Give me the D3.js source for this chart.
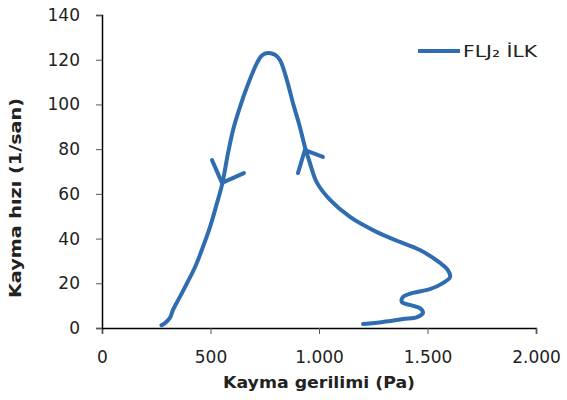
<!DOCTYPE html>
<html>
<head>
<meta charset="utf-8">
<script src="https://cdn.jsdelivr.net/npm/d3@7"></script>
<style>
body { margin: 0; background: #fff; }
.tick text { font-family: "DejaVu Sans", sans-serif; font-size: 17px; fill: #222; }
</style>
</head>
<body>
<div id="chart"></div>
<script>

// shear stress (Pa) and shear rate (1/san), in drawing order (up branch, then down)
const stress = [1203, 1295, 1387, 1452, 1479, 1465, 1419, 1382, 1387, 1433, 1511, 1571, 1604, 1594, 1558,
  1465, 1373, 1267, 1143, 1051, 991, 958, 935, 912, 880, 852, 820, 797, 765, 737,
  714, 668, 636, 604, 581, 553, 530, 498, 465, 429, 392, 359, 327, 313, 290, 274]
const rate = [1.8, 2.7, 4.0, 4.9, 6.7, 8.9, 10.3, 11.6, 13.9, 15.7, 17.4, 20.1, 22.8, 25.9, 29.1,
  34.9, 38.5, 42.9, 49.7, 57.3, 64.9, 73.8, 81, 89.9, 100.6, 110.9, 119.9, 122.2, 123, 121.9,
  118.5, 107.8, 98.9, 88.6, 78.3, 64.0, 55.9, 45.2, 36.2, 27.3, 20.1, 13.9, 8.1, 4.5, 2.2, 1.2]

// hand drawn direction arrows [x, y] in data units
const arrowDown = [[507, 75.1], [553, 64.9], [654, 69.3]]
const arrowUp = [[903, 69.3], [935, 79.6], [1018, 76.5]]

const xTicks = [0, 500, 1000, 1500, 2000]
const yTicks = [0, 20, 40, 60, 80, 100, 120, 140]
const seriesName = "FLJ₂ İLK"

const width = 567, height = 400
const blue = "#2f6cb0"

const x = d3.scaleLinear().domain([0, 2000]).range([102, 536])
const y = d3.scaleLinear().domain([0, 140]).range([328, 15])

const svg = d3.select('#chart').append('svg').attr("width", width).attr("height", height)

const fmt = d => d3.format(",")(d).replace(/,/g, ".")

svg.append('g')
  .attr("transform", `translate(0,${y(0)})`)
  .call(d3.axisBottom(x).tickValues(xTicks).tickFormat(fmt).tickSizeOuter(0).tickSize(6).tickPadding(17))
  .call(g => g.select(".domain").attr("stroke", "#000").attr("stroke-width", 1.5))
  .call(g => g.selectAll(".tick line").attr("stroke", "#555"))

svg.append('g')
  .attr("transform", `translate(${x(0)},0)`)
  .call(d3.axisLeft(y).tickValues(yTicks).tickSizeOuter(0).tickSize(6).tickPadding(16))
  .call(g => g.select(".domain").attr("stroke", "#000").attr("stroke-width", 1.5))
  .call(g => g.selectAll(".tick line").attr("stroke", "#555"))

const idx = d3.range(stress.length)
const line = d3.line()
  .x(i => x(stress[i]))
  .y(i => y(rate[i]))
  .curve(d3.curveCatmullRom.alpha(0.5))

svg.append('path')
  .datum(idx)
  .attr("d", line)
  .attr("fill", "none")
  .attr("stroke", blue)
  .attr("stroke-width", 4)
  .attr("stroke-linejoin", "round")
  .attr("stroke-linecap", "round")

const arrowLine = d3.line().x(d => x(d[0])).y(d => y(d[1]))
;[arrowDown, arrowUp].forEach(a => {
  svg.append('path')
    .attr("d", arrowLine(a))
    .attr("fill", "none")
    .attr("stroke", blue)
    .attr("stroke-width", 4)
    .attr("stroke-linecap", "round")
    .attr("stroke-linejoin", "round")
})

// legend
svg.append('line')
  .attr("x1", 418).attr("x2", 460)
  .attr("y1", 51).attr("y2", 51)
  .attr("stroke", blue).attr("stroke-width", 4)

svg.append('text')
  .attr("x", 463).attr("y", 57)
  .attr("font-family", "DejaVu Sans, sans-serif")
  .attr("font-size", 15)
  .attr("fill", "#222")
  .attr("textLength", 74)
  .attr("lengthAdjust", "spacingAndGlyphs")
  .text(seriesName)

// axis titles
svg.append('text')
  .attr("x", 319).attr("y", 388)
  .attr("text-anchor", "middle")
  .attr("font-family", "DejaVu Sans, sans-serif")
  .attr("font-weight", "bold")
  .attr("font-size", 16)
  .attr("fill", "#222")
  .attr("textLength", 192)
  .attr("lengthAdjust", "spacingAndGlyphs")
  .text("Kayma gerilimi (Pa)")

svg.append('text')
  .attr("transform", "translate(21,198) rotate(-90)")
  .attr("text-anchor", "middle")
  .attr("font-family", "DejaVu Sans, sans-serif")
  .attr("font-weight", "bold")
  .attr("font-size", 16)
  .attr("fill", "#222")
  .attr("textLength", 200)
  .attr("lengthAdjust", "spacingAndGlyphs")
  .text("Kayma hızı (1/san)")

</script>
</body>
</html>
